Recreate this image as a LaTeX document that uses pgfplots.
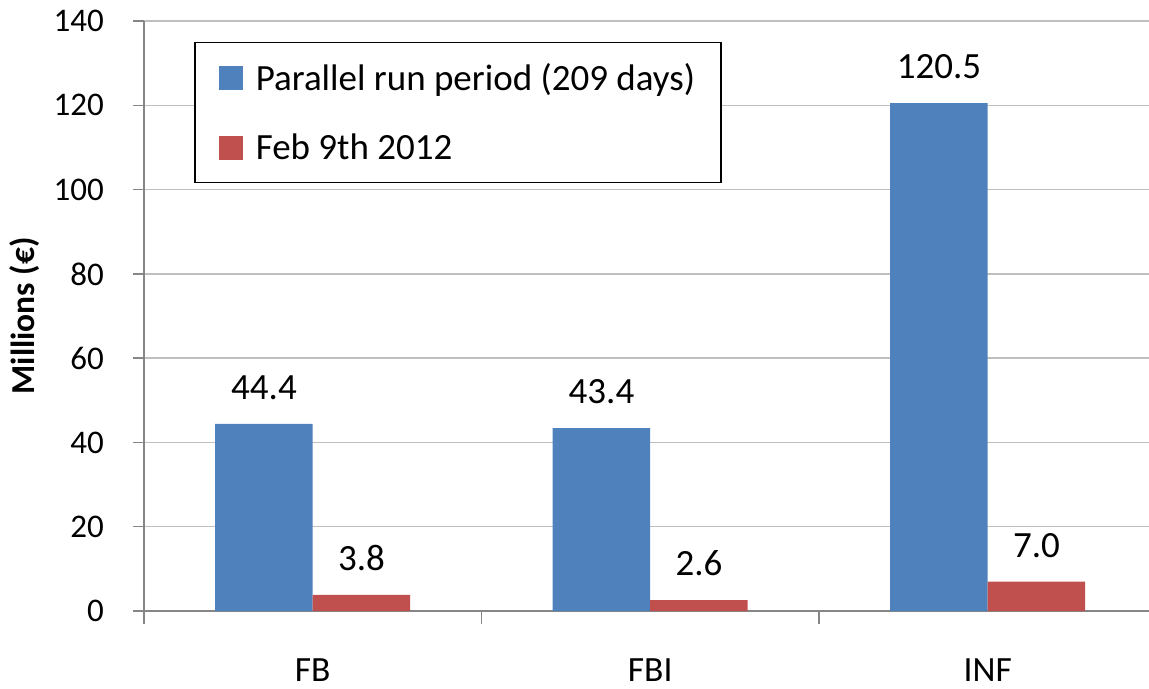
\documentclass[border=0pt]{standalone}
\usepackage{pgfplots}
\pgfplotsset{compat=1.18}
\usepackage{fontspec}
\setmainfont{Carlito}
\definecolor{xblue}{RGB}{79,129,189}
\definecolor{xred}{RGB}{192,80,77}
\definecolor{axgray}{RGB}{134,134,134}
\definecolor{grgray}{RGB}{191,191,191}
\newcommand{\tickf}{\fontsize{33bp}{40bp}\selectfont}
\newcommand{\xtickf}{\fontsize{35.5bp}{42bp}\selectfont}
\newcommand{\bigf}{\fontsize{37bp}{44bp}\selectfont}
\begin{document}
\begin{tikzpicture}
\path[use as bounding box] (-144bp,-78bp) rectangle (1005bp,611bp);
\begin{axis}[
  at={(0,0)}, anchor=south west,
  scale only axis, width=1005bp, height=590bp,
  xmin=-0.5, xmax=2.478, ymin=0, ymax=140,
  /pgf/number format/assume math mode=true,
  ytick={0,20,...,140},
  xtick={0,1,2}, xticklabels={FB,FBI,INF},
  axis x line*=bottom, axis y line*=left,
  axis line style={draw=axgray, line width=1.5bp, -},
  ymajorgrids, grid style={draw=grgray, line width=1.5bp},
  tick align=outside, major tick length=11bp,
  ytick style={draw=axgray, line width=1.5bp},
  xtick style={draw=none},
  extra x ticks={-0.5,0.5,1.5}, extra x tick labels={},
  extra x tick style={major tick length=13bp, xtick style={draw=axgray, line width=1.5bp}},
  yticklabel style={font=\tickf, anchor=east, inner sep=0pt, xshift=-29bp},
  xticklabel style={font=\xtickf, anchor=base, inner sep=0pt, yshift=-59bp},
  ylabel={Millions (€)},
  every axis y label/.style={at={(axis description cs:0,0.5)}, xshift=-119bp, rotate=90, anchor=center, font=\fontsize{33.5bp}{40bp}\selectfont\bfseries},
  ybar=0pt, bar width=97.5bp,
  nodes near coords={\pgfmathprintnumber[fixed,fixed zerofill,precision=1,assume math mode=true]{\pgfplotspointmeta}},
  every node near coord/.append style={font=\bigf, inner sep=0pt, anchor=south, yshift=24bp, text=black},
  legend style={at={(rel axis cs:0.0498,0.9644)}, anchor=north west, draw=black, line width=1.5bp,
    font=\bigf, inner xsep=24bp, inner ysep=19bp, row sep=38bp},
  legend cell align=left,
  legend image code/.code={\path[#1, draw=none] (0bp,-12bp) rectangle (24bp,12bp); \path (35bp,0bp);},
]
\addplot[fill=xblue, draw=none] table[x=x,y=y] {
x y
0 44.4
1 43.4
2 120.5
};
\addlegendentry{Parallel run period (209 days)}
\addplot[fill=xred, draw=none] table[x=x,y=y] {
x y
0 3.8
1 2.6
2 7.0
};
\addlegendentry{Feb 9th 2012}
\end{axis}
\end{tikzpicture}
\end{document}
